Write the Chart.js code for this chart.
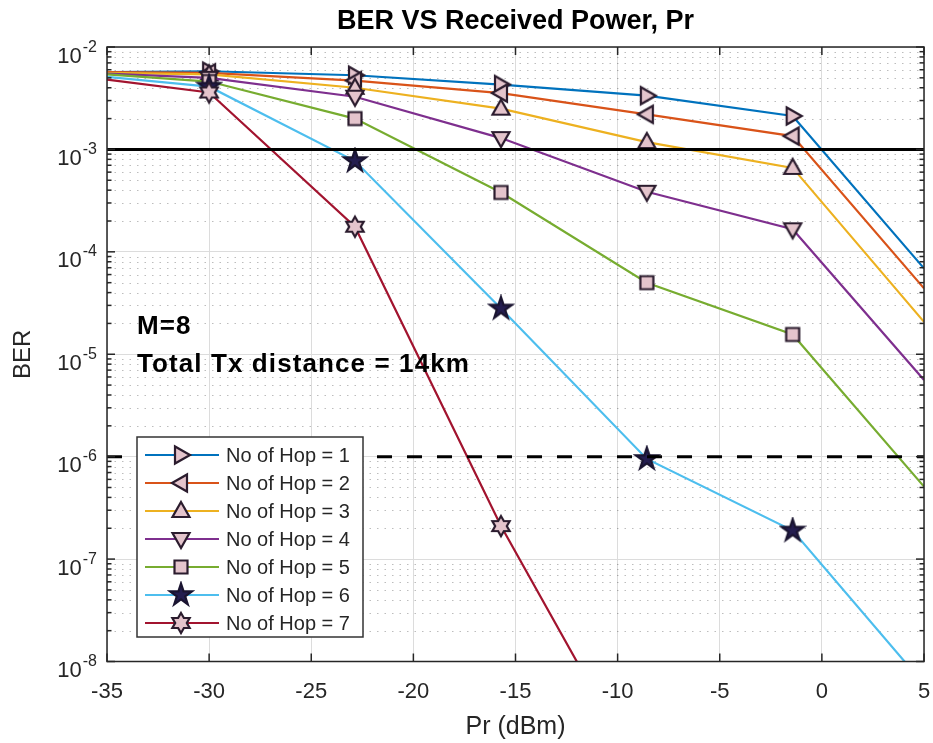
<!DOCTYPE html>
<html>
<head>
<meta charset="utf-8">
<title>BER VS Received Power</title>
<script src="https://cdn.jsdelivr.net/npm/chart.js@4.4.1/dist/chart.umd.min.js"></script>
<style>
  html, body { margin: 0; padding: 0; background: #fff; }
  #wrap { width: 933px; height: 743px; }
</style>
</head>
<body>
<div id="wrap"><canvas id="berChart" width="933" height="743"></canvas></div>
<script>
// received power (dBm) where every hop curve is sampled
const prValues = [-35, -30, -22.86, -15.71, -8.57, -1.43, 5];

// BER per number of hops
const berHop1 = [5.7e-3, 5.8e-3, 5.3e-3, 4.3e-3, 3.35e-3, 2.12e-3, 6.9e-5];
const berHop2 = [5.7e-3, 5.6e-3, 4.7e-3, 3.55e-3, 2.2e-3, 1.35e-3, 4.4e-5];
const berHop3 = [5.6e-3, 5.4e-3, 4.0e-3, 2.5e-3, 1.18e-3, 6.6e-4, 2.07e-5];
const berHop4 = [5.5e-3, 5.0e-3, 3.27e-3, 1.29e-3, 3.86e-4, 1.66e-4, 5.6e-6];
const berHop5 = [5.4e-3, 4.6e-3, 2.0e-3, 3.8e-4, 5.0e-5, 1.56e-5, 5.1e-7];
const berHop6 = [5.1e-3, 4.1e-3, 7.7e-4, 2.8e-5, 9.5e-7, 1.9e-7, 6.0e-9];
const berHop7 = [4.8e-3, 3.6e-3, 1.76e-4, 2.1e-7, 6.0e-10, null, null];

const hopLabels = ['No of Hop = 1', 'No of Hop = 2', 'No of Hop = 3', 'No of Hop = 4',
                   'No of Hop = 5', 'No of Hop = 6', 'No of Hop = 7'];
const hopColors = ['#0072BD', '#D95319', '#EDB120', '#7E2F8E', '#77AC30', '#4DBEEE', '#A2142F'];

// reference BER levels
const berLimit = 1e-3;
const berTarget = 1e-6;

const xTickValues = [-35, -30, -25, -20, -15, -10, -5, 0, 5];
const yDecades = [-8, -7, -6, -5, -4, -3, -2];

const FONT = '"Liberation Sans", Arial, Helvetica, sans-serif';
const AXIS_COLOR = '#262626';
const MARK_FILL = '#e4c4cc';
const MARK_EDGE = '#2b1c2e';

Chart.defaults.font.family = FONT;

// marker bitmaps (pointStyle accepts a canvas)
function makeMarker(draw, fill, edge) {
  const c = document.createElement('canvas');
  c.width = 28; c.height = 28;
  const g = c.getContext('2d');
  g.translate(14, 14);
  g.lineWidth = 2.2;
  g.lineJoin = 'miter';
  g.strokeStyle = edge || MARK_EDGE;
  g.fillStyle = fill || MARK_FILL;
  g.beginPath();
  draw(g);
  g.closePath();
  g.fill();
  g.stroke();
  return c;
}
function triangle(deg) {
  return makeMarker(g => {
    g.rotate(deg * Math.PI / 180);
    g.moveTo(0, -9); g.lineTo(8.5, 6); g.lineTo(-8.5, 6);
  });
}
function starPath(g, n, outer, inner) {
  for (let i = 0; i < n * 2; i++) {
    const r = i % 2 ? inner : outer;
    const ang = -Math.PI / 2 + i * Math.PI / n;
    const px = r * Math.cos(ang), py = r * Math.sin(ang);
    if (i === 0) g.moveTo(px, py); else g.lineTo(px, py);
  }
}
const hopMarkers = [
  triangle(90),
  triangle(-90),
  triangle(0),
  triangle(180),
  makeMarker(g => g.rect(-6.5, -6.5, 13, 13)),
  makeMarker(g => starPath(g, 5, 11.5, 4.4), '#241d4f', '#1a1430'),
  makeMarker(g => starPath(g, 6, 10, 5.8))
];

const hopSeries = [berHop1, berHop2, berHop3, berHop4, berHop5, berHop6, berHop7];

const datasets = hopSeries.map((vals, i) => ({
  label: hopLabels[i],
  data: vals.map((v, k) => ({ x: prValues[k], y: v })),
  borderColor: hopColors[i],
  backgroundColor: hopColors[i],
  borderWidth: 2.2,
  pointStyle: hopMarkers[i],
  // the end samples are drawn as line only
  pointRadius: c => (c.dataIndex === 0 || c.dataIndex === prValues.length - 1) ? 0 : 6,
  tension: 0,
  order: 10 - i
}));

datasets.push({
  label: 'limit',
  data: [{ x: -35, y: berLimit }, { x: 5, y: berLimit }],
  borderColor: '#000',
  borderWidth: 3,
  pointRadius: 0,
  order: 0
});
datasets.push({
  label: 'target',
  data: [{ x: -35, y: berTarget }, { x: 5, y: berTarget }],
  borderColor: '#000',
  borderWidth: 3,
  borderDash: [15, 15],
  pointRadius: 0,
  order: 0
});

function hLine(ctx, x1, y1, x2, y2) {
  ctx.beginPath(); ctx.moveTo(x1, y1); ctx.lineTo(x2, y2); ctx.stroke();
}

const axesDecor = {
  id: 'axesDecor',
  beforeDatasetsDraw(chart) {
    // dotted minor grid between decades
    const { ctx, chartArea: a, scales: { y } } = chart;
    ctx.save();
    ctx.strokeStyle = 'rgba(0,0,0,0.26)';
    ctx.lineWidth = 1;
    ctx.setLineDash([1.5, 6]);
    for (let e = -8; e < -2; e++) {
      for (let k = 2; k <= 9; k++) {
        const py = Math.round(y.getPixelForValue(k * Math.pow(10, e))) + 0.5;
        hLine(ctx, a.left, py, a.right, py);
      }
    }
    ctx.restore();
  },
  afterDatasetsDraw(chart) {
    const { ctx, chartArea: a, scales: { x, y } } = chart;
    ctx.save();
    ctx.strokeStyle = AXIS_COLOR;
    ctx.lineWidth = 1.5;
    ctx.strokeRect(a.left, a.top, a.right - a.left, a.bottom - a.top);

    xTickValues.forEach(v => {
      const px = x.getPixelForValue(v);
      hLine(ctx, px, a.bottom, px, a.bottom - 8);
      hLine(ctx, px, a.top, px, a.top + 8);
    });
    yDecades.forEach(e => {
      const py = y.getPixelForValue(Math.pow(10, e));
      hLine(ctx, a.left, py, a.left + 8, py);
      hLine(ctx, a.right, py, a.right - 8, py);
      if (e < -2) {
        for (let k = 2; k <= 9; k++) {
          const my = y.getPixelForValue(k * Math.pow(10, e));
          hLine(ctx, a.left, my, a.left + 4.5, my);
          hLine(ctx, a.right, my, a.right - 4.5, my);
        }
      }
    });

    // decade labels as 10 with raised exponent
    ctx.fillStyle = AXIS_COLOR;
    ctx.textBaseline = 'alphabetic';
    ctx.textAlign = 'right';
    yDecades.forEach(e => {
      const py = y.getPixelForValue(Math.pow(10, e));
      const exp = String(e);
      ctx.font = '16px ' + FONT;
      const expW = ctx.measureText(exp).width;
      ctx.fillText(exp, a.left - 10, py + 4.5);
      ctx.font = '22px ' + FONT;
      ctx.fillText('10', a.left - 11 - expW, py + 15.5);
    });
    ctx.restore();
  },
  afterDraw(chart) {
    const { ctx } = chart;
    ctx.save();
    ctx.fillStyle = '#000';
    ctx.textAlign = 'left';
    ctx.textBaseline = 'alphabetic';
    ctx.font = 'bold 26px ' + FONT;
    ctx.letterSpacing = '1.1px';
    ctx.fillText('M=8', 137, 334);
    ctx.fillText('Total Tx distance = 14km', 137, 372);
    ctx.letterSpacing = '0px';

    // legend box
    const lx = 137, ly = 437, lw = 226, lh = 200;
    ctx.fillStyle = '#fff';
    ctx.fillRect(lx, ly, lw, lh);
    ctx.strokeStyle = '#333';
    ctx.lineWidth = 1.5;
    ctx.strokeRect(lx, ly, lw, lh);
    ctx.font = '20px ' + FONT;
    ctx.textBaseline = 'middle';
    hopLabels.forEach((label, i) => {
      const ry = 455 + i * 28;
      ctx.strokeStyle = hopColors[i];
      ctx.lineWidth = 2.2;
      hLine(ctx, 145, ry, 219, ry);
      const m = hopMarkers[i];
      ctx.drawImage(m, 181 - m.width / 2, ry - m.height / 2);
      ctx.fillStyle = AXIS_COLOR;
      ctx.fillText(label, 226, ry + 1);
    });
    ctx.restore();
  }
};

new Chart(document.getElementById('berChart'), {
  type: 'line',
  data: { datasets: datasets },
  options: {
    responsive: false,
    animation: false,
    devicePixelRatio: 1,
    layout: { padding: { left: 0, right: 9, top: 0, bottom: 0 } },
    plugins: {
      legend: { display: false },
      tooltip: { enabled: false },
      title: {
        display: true,
        text: 'BER VS Received Power, Pr',
        fullSize: false,
        color: '#000',
        font: { size: 27, weight: 'bold' },
        padding: { top: 5, bottom: 9.6 }
      }
    },
    scales: {
      x: {
        type: 'linear',
        min: -35,
        max: 5,
        afterBuildTicks: s => { s.ticks = xTickValues.map(v => ({ value: v })); },
        afterFit: s => { s.height = 81.5; s.paddingLeft = 0; s.paddingRight = 0; },
        ticks: { color: AXIS_COLOR, font: { size: 22 }, padding: 17, maxRotation: 0 },
        grid: { color: '#dcdcdc', lineWidth: 1, drawTicks: false },
        border: { display: false },
        title: { display: true, text: 'Pr (dBm)', color: AXIS_COLOR, font: { size: 25 }, padding: { top: 0, bottom: 1 } }
      },
      y: {
        type: 'logarithmic',
        min: 1e-8,
        max: 1e-2,
        afterBuildTicks: s => { s.ticks = yDecades.map(e => ({ value: Math.pow(10, e) })); },
        afterFit: s => { s.width = 107; s.paddingTop = 0; s.paddingBottom = 0; },
        ticks: { display: false },
        grid: { color: '#dcdcdc', lineWidth: 1, drawTicks: false },
        border: { display: false },
        title: { display: true, text: 'BER', color: AXIS_COLOR, font: { size: 24 }, padding: { top: 9, bottom: 0 } }
      }
    }
  },
  plugins: [axesDecor]
});
</script>
</body>
</html>
